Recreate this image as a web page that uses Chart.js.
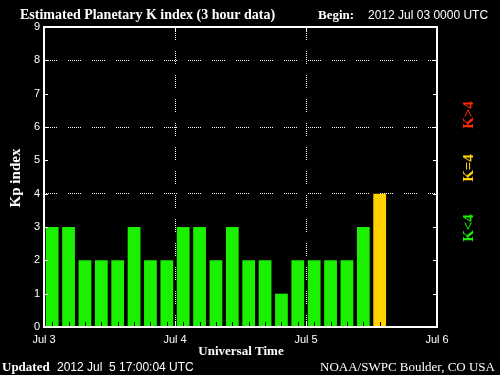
<!DOCTYPE html>
<html>
<head>
<meta charset="utf-8">
<script src="https://cdn.jsdelivr.net/npm/chart.js@4"></script>
<style>
  html, body { margin: 0; padding: 0; background: #000; }
  #wrap { width: 500px; height: 375px; }
</style>
</head>
<body>
<div id="wrap"><canvas id="kp"></canvas></div>
<script>
// day labels on the x axis (hours since Jul 03 0000 UTC: 0, 24, 48, 72)
const dayLabels = ['Jul 3', 'Jul 4', 'Jul 5', 'Jul 6'];
// centre of each 3 hour interval, hours since start
const slotHours = [1.5, 4.5, 7.5, 10.5, 13.5, 16.5, 19.5, 22.5,
                   25.5, 28.5, 31.5, 34.5, 37.5, 40.5, 43.5, 46.5,
                   49.5, 52.5, 55.5, 58.5, 61.5];
const kpValues = [3, 3, 2, 2, 2, 3, 2, 2,
                  3, 3, 2, 3, 2, 2, 1, 2,
                  2, 2, 2, 3, 4];
const kpColors = { low: '#1af000', storm4: '#ffd200', high: '#ff2a00' };

const barColors = kpValues.map(v => v < 4 ? kpColors.low : (v == 4 ? kpColors.storm4 : kpColors.high));
const dots = [1, 1, 1, 1, 1, 1, 1, 1, 1, 1, 1, 1, 1, 11];
const serifBold = 'bold 13px "Liberation Serif", "DejaVu Serif", serif';
const sideFont = 'bold 15px "Liberation Serif", "DejaVu Serif", serif';

const framePlugin = {
    id: 'frame',
    beforeDraw(chart) {
        const ctx = chart.ctx;
        ctx.save();
        ctx.fillStyle = '#000';
        ctx.fillRect(0, 0, chart.width, chart.height);
        ctx.restore();
    },
    afterDatasetsDraw(chart) {
        const ctx = chart.ctx;
        const a = chart.chartArea;
        const xs = chart.scales.x;
        const ys = chart.scales.y;
        ctx.save();
        // small black ticks at the middle of each 3 hour bar
        ctx.strokeStyle = '#000';
        ctx.lineWidth = 1;
        slotHours.forEach(h => {
            const px = Math.round(xs.getPixelForValue(h)) + 0.5;
            ctx.beginPath();
            ctx.moveTo(px, a.bottom);
            ctx.lineTo(px, a.bottom - 5);
            ctx.stroke();
        });
        // white frame
        ctx.strokeStyle = '#fff';
        ctx.lineWidth = 2;
        ctx.strokeRect(Math.round(a.left), Math.round(a.top), Math.round(a.right - a.left), Math.round(a.bottom - a.top));
        // y ticks on both sides, pointing in
        ctx.lineWidth = 1;
        for (let v = 0; v <= 9; v++) {
            const py = Math.round(ys.getPixelForValue(v)) + 0.5;
            ctx.beginPath();
            ctx.moveTo(a.left, py); ctx.lineTo(a.left + 4, py);
            ctx.moveTo(a.right, py); ctx.lineTo(a.right - 4, py);
            ctx.stroke();
        }
        // day ticks on top and bottom
        [24, 48].forEach(h => {
            const px = Math.round(xs.getPixelForValue(h)) + 0.5;
            ctx.beginPath();
            ctx.moveTo(px, a.top); ctx.lineTo(px, a.top + 5);
            ctx.moveTo(px, a.bottom); ctx.lineTo(px, a.bottom - 6);
            ctx.stroke();
        });
        ctx.restore();
    },
    afterDraw(chart) {
        const ctx = chart.ctx;
        ctx.save();
        ctx.fillStyle = '#fff';
        ctx.textBaseline = 'alphabetic';
        ctx.textAlign = 'left';
        ctx.font = 'bold 14px "Liberation Serif", "DejaVu Serif", serif';
        ctx.fillText('Estimated Planetary K index (3 hour data)', 20, 19, 277);
        ctx.font = serifBold;
        ctx.fillText('Begin:', 318, 19);
        ctx.font = '12px "Liberation Sans", "DejaVu Sans", sans-serif';
        ctx.fillText('2012 Jul 03 0000 UTC', 368, 19);

        // bottom lines
        ctx.font = serifBold;
        ctx.textAlign = 'center';
        ctx.fillText('Universal Time', 241, 355);
        ctx.textAlign = 'left';
        ctx.fillText('Updated', 2, 371);
        ctx.font = '12px "Liberation Sans", "DejaVu Sans", sans-serif';
        ctx.fillText('2012 Jul  5 17:00:04 UTC', 57, 371, 154);
        ctx.font = '13px "Liberation Serif", "DejaVu Serif", serif';
        ctx.fillText('NOAA/SWPC Boulder, CO USA', 320, 371, 178);

        // rotated labels
        const vert = (text, x, y, color) => {
            ctx.save();
            ctx.translate(x, y);
            ctx.rotate(-Math.PI / 2);
            ctx.fillStyle = color;
            ctx.textAlign = 'center';
            ctx.textBaseline = 'middle';
            ctx.fillText(text, 0, 0);
            ctx.restore();
        };
        ctx.font = sideFont;
        vert('Kp index', 16, 178, '#fff');
        vert('K>4', 469, 115, kpColors.high);
        vert('K=4', 469, 168, kpColors.storm4);
        vert('K<4', 469, 228, kpColors.low);
        ctx.restore();
    }
};

new Chart(document.getElementById('kp'), {
    type: 'bar',
    data: {
        datasets: [{
            data: slotHours.map((h, i) => ({ x: h, y: kpValues[i] })),
            backgroundColor: barColors,
            borderWidth: 0,
            categoryPercentage: 1,
            barPercentage: 0.78
        }]
    },
    options: {
        responsive: true,
        maintainAspectRatio: false,
        animation: false,
        layout: { padding: { left: 0, top: 27, right: 63, bottom: 0 } },
        plugins: { legend: { display: false }, tooltip: { enabled: false } },
        scales: {
            x: {
                type: 'linear',
                min: 0,
                max: 72,
                offset: false,
                afterFit: s => { s.height = 48; },
                border: { display: false, dash: dots },
                grid: {
                    offset: false,
                    drawTicks: false,
                    lineWidth: 1,
                    color: c => (c.tick && (c.tick.value == 24 || c.tick.value == 48)) ? '#fff' : 'rgba(0,0,0,0)'
                },
                ticks: {
                    stepSize: 24,
                    padding: 6,
                    color: '#fff',
                    font: { family: '"Liberation Sans", "DejaVu Sans", sans-serif', size: 11 },
                    maxRotation: 0,
                    callback: v => dayLabels[v / 24]
                }
            },
            y: {
                min: 0,
                max: 9,
                afterFit: s => { s.width = 44; },
                border: { display: false, dash: dots },
                grid: {
                    drawTicks: false,
                    lineWidth: 1,
                    color: c => (c.tick && [4, 6, 8].includes(c.tick.value)) ? '#fff' : 'rgba(0,0,0,0)'
                },
                ticks: {
                    stepSize: 1,
                    padding: 4,
                    color: '#fff',
                    font: { family: '"Liberation Sans", "DejaVu Sans", sans-serif', size: 11 }
                }
            }
        }
    },
    plugins: [framePlugin]
});
</script>
</body>
</html>
